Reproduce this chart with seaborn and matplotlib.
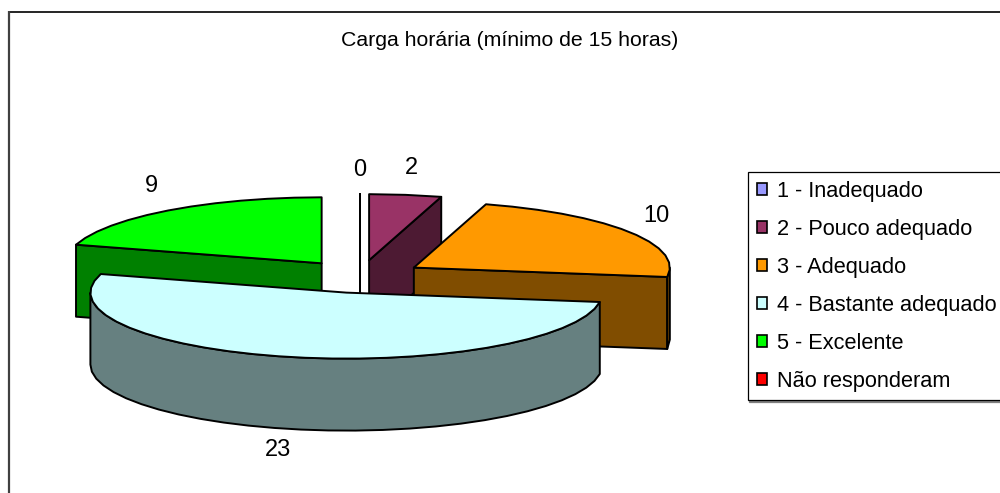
import numpy as np
import matplotlib
matplotlib.use("Agg")
import matplotlib.pyplot as plt
from matplotlib.patches import Polygon, Patch
import seaborn as sns

categories = ["1 - Inadequado", "2 - Pouco adequado", "3 - Adequado",
              "4 - Bastante adequado", "5 - Excelente", "Não responderam"]
values = [0, 2, 10, 23, 9, 0]
colors = ["#9999FF", "#993366", "#FF9900", "#CCFFFF", "#00FF00", "#FF0000"]
title = "Carga horária (mínimo de 15 horas)"

# pie geometry in pixels
CX, CY, RX, RY, DEPTH, EXPLODE = 360, 276.5, 256, 66, 72, 0.25
DRAW_ORDER = [0, 1, 4, 2, 3]
LABEL_OFFSETS = {0: (0, -24), 1: (6, -27), 2: (27, -16), 3: (-14, 93), 4: (-17, -24)}
ARC_STEP = 6
LW = 1.4

sns.set_theme(style="white")
plt.rcParams["font.family"] = ["Liberation Sans", "DejaVu Sans"]

fig = plt.figure(figsize=(10, 4.93), dpi=100)
ax = fig.add_axes([0, 0, 1, 1])
ax.set_xlim(0, 1000)
ax.set_ylim(493, 0)
ax.axis("off")

palette = sns.color_palette(colors)
v = np.array(values[:5], float)
edges = np.concatenate([[0], np.cumsum(v)]) / np.sum(values) * 360


def point(c, a, r=1.0):
    t = np.radians(a)
    return np.array([c[0] + RX * r * np.sin(t), c[1] - RY * r * np.cos(t)])


def arc(c, a0, a1):
    n = max(int(abs(a1 - a0) / ARC_STEP), 1)
    return [point(c, a) for a in np.linspace(a0, a1, n + 1)]


def poly(pts, fc, z):
    ax.add_patch(Polygon(np.array(pts), closed=True, facecolor=fc, edgecolor="black",
                         linewidth=LW, joinstyle="round", zorder=z))


down = np.array([0, DEPTH])
z = 2
for i in DRAW_ORDER:
    a0, a1 = edges[i], edges[i + 1]
    mid = (a0 + a1) / 2
    apex = point((CX, CY), mid, EXPLODE)
    col = palette[i]
    dark = tuple(c * 0.5 for c in col)
    # radial side faces
    if np.sin(np.radians(a0)) < -1e-9:
        p = point(apex, a0)
        poly([apex, p, p + down, apex + down], dark, z); z += 1
    if np.sin(np.radians(a1)) > -1e-9 and a1 < 359.9:
        p = point(apex, a1)
        poly([apex, p, p + down, apex + down], dark, z); z += 1
    # outer wall
    w0, w1 = max(a0, 90), min(a1, 270)
    if w1 > w0:
        top = arc(apex, w0, w1)
        poly(top + [q + down for q in top[::-1]], dark, z); z += 1
    # top face
    poly([apex] + arc(apex, a0, a1), col, z); z += 1
    # value label
    dx, dy = LABEL_OFFSETS[i]
    lp = point(apex, mid)
    ax.text(lp[0] + dx, lp[1] + dy, str(values[i]), ha="center", va="center",
            fontsize=17, color="black", zorder=50)

ax.text(510, 40, title, ha="center", va="center", fontsize=15.3, color="black")

# outer chart frame (left and top edges only)
ax.plot([8.5, 1000], [12, 12], color="black", lw=1.2, solid_capstyle="butt")
ax.plot([8.5, 8.5], [11, 493], color="#404040", lw=1.6, solid_capstyle="butt")

handles = [Patch(facecolor=c, edgecolor="black", linewidth=1.2) for c in palette]
leg = ax.legend(handles, categories, loc="upper left",
                bbox_to_anchor=(748 / 1000, 1 - 172 / 493), borderaxespad=0,
                fontsize=15.7, frameon=True, fancybox=False, edgecolor="black",
                framealpha=1, handlelength=0.46, handleheight=0.46, handletextpad=0.46,
                labelspacing=0.78, borderpad=0.4, labelcolor="black",
                shadow=dict(ox=1, oy=-1, color="#808080", alpha=1))
leg.get_frame().set_linewidth(0.9)

fig.savefig("out.png", dpi=100)
